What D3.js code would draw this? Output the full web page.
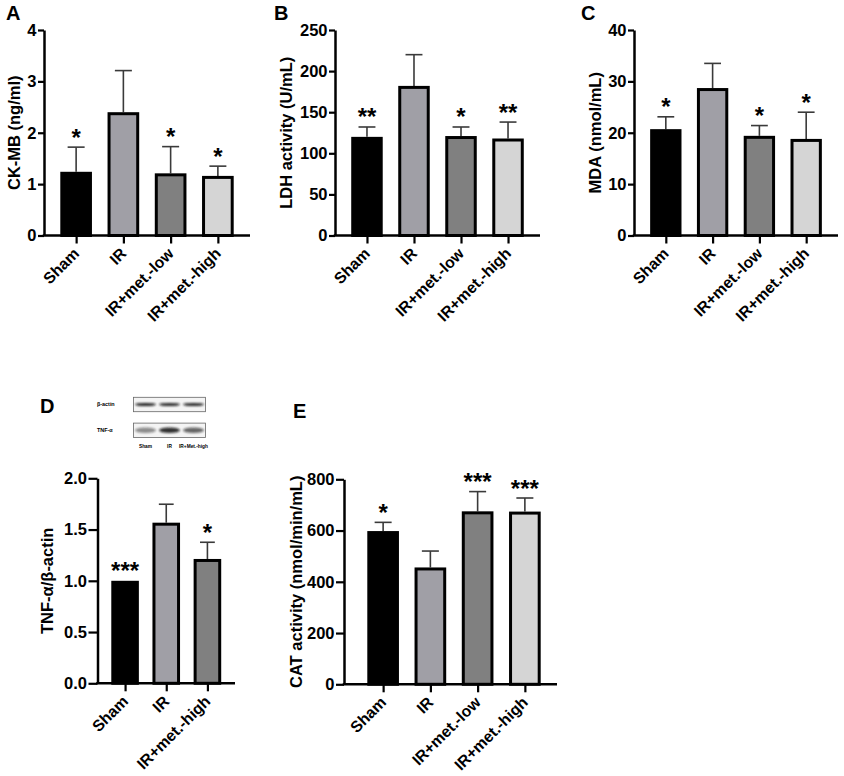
<!DOCTYPE html>
<html><head><meta charset="utf-8">
<script src="https://cdn.jsdelivr.net/npm/d3@7"></script>
<style>body{margin:0;background:#fff} svg{display:block} text{font-family:"Liberation Sans",Arial,sans-serif;font-weight:bold;fill:#000}</style>
</head><body><svg id="c" width="844" height="776"></svg>
<script>
// ---------- data ----------
const groups4 = ["Sham","IR","IR+met.-low","IR+met.-high"];
const groups3 = ["Sham","IR","IR+met.-high"];
const fill4 = ["#000000","#a09fa6","#808080","#d5d5d5"];
const fill3 = ["#000000","#a09fa6","#808080"];

const ckmbMean = [1.24, 2.40, 1.21, 1.16];
const ckmbSD   = [0.48, 0.81, 0.52, 0.19];
const ckmbSig  = ["*", "", "*", "*"];
const ckmbTicks = [0, 1, 2, 3, 4];

const ldhMean = [120, 182, 121, 118];
const ldhSD   = [12, 38, 11, 20];
const ldhSig  = ["**", "", "*", "**"];
const ldhTicks = [0, 50, 100, 150, 200, 250];

const mdaMean = [20.7, 28.7, 19.4, 18.8];
const mdaSD   = [2.4, 4.8, 2.0, 5.2];
const mdaSig  = ["*", "", "*", "*"];
const mdaTicks = [0, 10, 20, 30, 40];

const tnfMean = [1.0, 1.567, 1.213];
const tnfSD   = [0, 0.18, 0.163];
const tnfSig  = ["***", "", "*"];
const tnfTicks = [0, 0.5, 1.0, 1.5, 2.0];

const catMean = [598, 456, 675, 674];
const catSD   = [34, 64, 77, 53];
const catSig  = ["*", "", "***", "***"];
const catTicks = [0, 200, 400, 600, 800];

const blotLanes = ["Sham", "IR", "IR+Met.-high"];
const blotRows  = ["β-actin", "TNF-α"];
const actinBand = [0.9, 0.88, 0.88];
const tnfBand   = [0.45, 0.85, 0.62];

// ---------- drawing ----------
const svg = d3.select("#c");
svg.append("rect").attr("width",844).attr("height",776).attr("fill","#fff");

function panel(o){
  const g = svg.append("g");
  const y = d3.scaleLinear().domain([o.ticks[0], o.ticks[o.ticks.length-1]]).range([o.y0, o.y1]);
  const x = d3.scalePoint().domain(o.groups).range([o.xs, o.xe]).padding(o.pad);
  const step = x.step(), bw = step*0.67, cap = step*0.36;
  const rows = o.groups.map((d,i)=>({g:d, m:o.mean[i], sd:o.sd[i], sig:o.sig[i], f:o.fill[i]}));

  // error bars (upper only)
  const eb = g.selectAll("g.eb").data(rows.filter(r=>r.sd>0)).join("g");
  eb.append("line").attr("x1",r=>x(r.g)).attr("x2",r=>x(r.g))
    .attr("y1",r=>y(r.m)).attr("y2",r=>y(r.m+r.sd))
    .attr("stroke","#3a3a3a").attr("stroke-width",1.6);
  eb.append("line").attr("x1",r=>x(r.g)-cap/2).attr("x2",r=>x(r.g)+cap/2)
    .attr("y1",r=>y(r.m+r.sd)).attr("y2",r=>y(r.m+r.sd))
    .attr("stroke","#3a3a3a").attr("stroke-width",1.6);

  // bars
  g.selectAll("rect.bar").data(rows).join("rect")
    .attr("x",r=>x(r.g)-bw/2+1.5).attr("width",bw-3)
    .attr("y",r=>y(r.m)+1.5).attr("height",r=>o.y0-y(r.m)-1.5)
    .attr("fill",r=>r.f).attr("stroke","#000").attr("stroke-width",3);

  // significance stars
  g.selectAll("text.sig").data(rows.filter(r=>r.sig)).join("text")
    .attr("x",r=>x(r.g)).attr("y",r=>y(r.m+r.sd)-1.5)
    .attr("text-anchor","middle").attr("font-size",24).text(r=>r.sig);

  // y axis
  const ya = g.append("g").attr("transform",`translate(${o.ax},0)`)
    .call(d3.axisLeft(y).tickValues(o.ticks).tickSize(o.tk).tickSizeOuter(0).tickPadding(1.5).tickFormat(o.fmt));
  ya.select(".domain").attr("stroke-width",2.5);
  ya.selectAll(".tick line").attr("stroke-width",2.2);
  ya.selectAll(".tick text").attr("font-size",16.5).attr("font-family","Liberation Sans, Arial, sans-serif").attr("font-weight","bold");

  // x axis
  g.append("line").attr("x1",o.ax-1.25).attr("x2",o.xe).attr("y1",o.y0).attr("y2",o.y0)
    .attr("stroke","#000").attr("stroke-width",2.5);
  const xa = g.append("g").attr("transform",`translate(0,${o.y0})`)
    .call(d3.axisBottom(x).tickSize(8).tickSizeOuter(0).tickFormat(""));
  xa.select(".domain").remove();
  xa.selectAll(".tick line").attr("stroke-width",2.2);
  g.selectAll("text.xl").data(o.groups).join("text")
    .attr("transform",d=>`translate(${x(d)+4},${o.y0+19}) rotate(-45)`)
    .attr("text-anchor","end").attr("font-size",15.8).text(d=>d);

  // y title
  g.append("text").attr("transform",`translate(${o.tx},${(o.y0+o.y1)/2}) rotate(-90)`)
    .attr("text-anchor","middle").attr("dominant-baseline","central")
    .attr("font-size",16.5).text(o.title);

  // panel letter
  g.append("text").attr("x",o.lx).attr("y",o.ly).attr("font-size",20).text(o.letter);
}

const f0 = d3.format("d"), f1 = d3.format(".1f");
panel({letter:"A",lx:6,ly:20,title:"CK-MB (ng/ml)",tx:14,groups:groups4,fill:fill4,mean:ckmbMean,sd:ckmbSD,sig:ckmbSig,ticks:ckmbTicks,fmt:f0,ax:44,xs:44,xe:250,y0:235.5,y1:30,pad:0.68,tk:6});
panel({letter:"B",lx:274,ly:20,title:"LDH activity (U/mL)",tx:286,groups:groups4,fill:fill4,mean:ldhMean,sd:ldhSD,sig:ldhSig,ticks:ldhTicks,fmt:f0,ax:335,xs:335,xe:540,y0:235.5,y1:30,pad:0.68,tk:6});
panel({letter:"C",lx:581,ly:20,title:"MDA (nmol/mL)",tx:595,groups:groups4,fill:fill4,mean:mdaMean,sd:mdaSD,sig:mdaSig,ticks:mdaTicks,fmt:f0,ax:634,xs:634,xe:838,y0:235.5,y1:30,pad:0.68,tk:6});
panel({letter:"D",lx:40,ly:413,title:"TNF-α/β-actin",tx:47,groups:groups3,fill:fill3,mean:tnfMean,sd:tnfSD,sig:tnfSig,ticks:tnfTicks,fmt:f1,ax:97.5,xs:97.5,xe:235,y0:683.3,y1:478.3,pad:0.67,tk:9});
panel({letter:"E",lx:293,ly:418,title:"CAT activity (nmol/min/mL)",tx:296,groups:groups4,fill:fill4,mean:catMean,sd:catSD,sig:catSig,ticks:catTicks,fmt:f0,ax:344,xs:351,xe:557,y0:684.3,y1:479.3,pad:0.68,tk:8});

// ---------- western blot ----------
const defs = svg.append("defs");
defs.append("filter").attr("id","blur").attr("x","-30%").attr("y","-100%").attr("width","160%").attr("height","300%")
  .append("feGaussianBlur").attr("stdDeviation","1.1 0.8");
const bl = svg.append("g");
const laneX = d3.scalePoint().domain(blotLanes).range([133.5,205.5]).padding(0.5);
const rowY = d3.scalePoint().domain(blotRows).range([404.5,430.3]);
const bands = [actinBand, tnfBand];
blotRows.forEach((r,ri)=>{
  bl.append("rect").attr("x",133.5).attr("y",rowY(r)-7.2).attr("width",72).attr("height",14.4)
    .attr("fill","#f4f4f4").attr("stroke","#666").attr("stroke-width",0.8);
  bl.selectAll(null).data(blotLanes).join("ellipse")
    .attr("cx",d=>laneX(d)).attr("cy",rowY(r)).attr("rx",10.5).attr("ry",ri===0?1.6:2.8)
    .attr("fill","#111")
    .attr("opacity",(d,i)=>bands[ri][i]).attr("filter","url(#blur)");
  bl.append("text").attr("x",97).attr("y",rowY(r)+1.8).attr("font-size",5.4)
    .attr("font-weight","normal").attr("fill","#333").text(r);
});
bl.selectAll("text.lane").data(blotLanes).join("text")
  .attr("x",d=>laneX(d)).attr("y",447.5).attr("text-anchor","middle")
  .attr("font-size",4.8).attr("font-weight","normal").attr("fill","#333").text(d=>d);
</script></body></html>
